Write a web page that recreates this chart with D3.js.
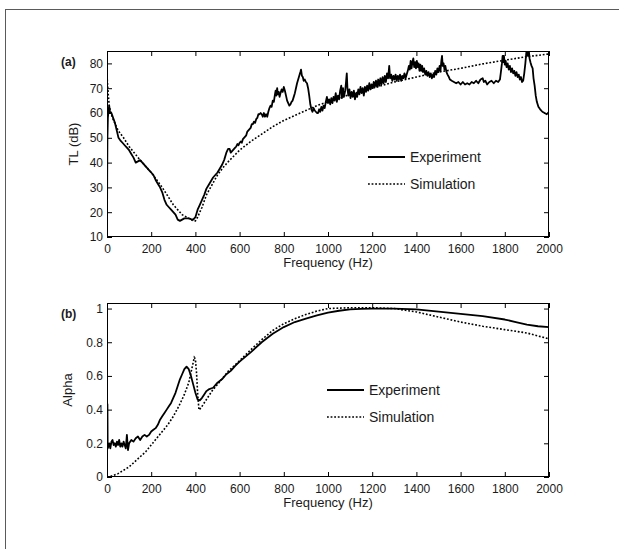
<!DOCTYPE html>
<meta charset="utf-8">
<head>
  <title>TL and Alpha</title>
</head>
<style>
  body { margin: 0; background: #fff; }
  text { font-family: "Liberation Sans", Arial, sans-serif; fill: #1a1a1a; }
  .tick line { stroke: #000; }
  .domain { display: none; }
</style>

<script src="https://d3js.org/d3.v7.min.js"></script>

<div id="my_dataviz"></div>

<script>
  // ---- data ----
  // panel (a): transmission loss, experiment
  var expAFreq = [
    0, 1, 2, 4, 7, 10, 14, 20, 28, 36, 44, 52, 60, 70, 80, 90, 100, 110, 120, 130, 140, 150, 160, 170, 180, 190, 200, 210, 220, 230, 240, 250, 260, 270, 280, 290, 300, 310, 320, 330, 340, 350, 360, 370, 380, 390, 400, 410, 420, 430, 440, 450, 460, 470, 480, 490, 500, 510, 520, 530, 540, 548, 555, 560, 570,
    580, 585, 590, 595, 600, 605, 610, 615, 620, 625, 630, 635, 640, 645, 650, 655, 660, 665, 670, 675, 680, 685, 690, 695,
    700, 705, 710, 715, 720, 725, 730, 735, 740, 745, 750, 755, 760, 763, 766, 770, 773, 777, 781, 785, 790, 795, 800, 805, 810, 815, 820, 825, 830, 835, 840, 845, 850, 855, 860, 865, 870, 875, 878, 882, 886, 890, 895, 900, 905, 910, 915, 920, 925, 930, 935, 940, 945, 950,
    955, 960, 965, 970, 975, 980, 985, 990, 995, 1000, 1005, 1010, 1015, 1020, 1025, 1030, 1035, 1040, 1045, 1050, 1055, 1060,
    1063, 1068, 1072, 1078, 1082, 1085, 1088, 1092, 1097, 1102, 1107, 1112, 1117, 1122, 1127, 1132, 1137, 1142, 1147, 1152, 1157, 1162, 1167, 1172, 1177, 1182, 1187, 1192, 1197, 1202, 1207, 1212, 1217, 1222, 1227, 1232, 1237, 1242, 1247, 1252, 1257, 1262, 1267, 1272, 1277,
    1281, 1286, 1291, 1296, 1301, 1306, 1311, 1316, 1321, 1326, 1331, 1336, 1341, 1346, 1351, 1356, 1361, 1366, 1370, 1374, 1378, 1382, 1386,
    1390, 1394, 1398, 1402, 1406, 1410, 1414, 1418, 1422, 1426, 1430, 1435, 1440, 1445, 1450, 1455, 1460, 1465, 1470, 1475, 1480, 1485, 1490, 1495, 1500, 1505, 1509, 1513, 1516, 1519, 1523, 1527, 1531, 1536, 1541, 1547, 1552, 1560,
    1570, 1580, 1590, 1600, 1610, 1620, 1630, 1640, 1650, 1660, 1670, 1680, 1690, 1700, 1705, 1712, 1720, 1730, 1740, 1750, 1760, 1770, 1778,
    1783, 1787, 1790, 1793, 1796, 1800, 1804, 1808, 1813, 1818, 1823, 1828, 1833, 1838, 1843, 1848, 1853, 1858, 1863, 1868, 1873, 1878, 1883, 1888, 1893, 1897, 1900, 1904, 1908, 1912, 1916, 1921, 1926, 1930, 1935, 1940, 1945, 1952, 1960, 1970, 1980, 1990, 2000];
  var expATL = [
    12, 35, 50, 58, 61, 63, 60, 60, 58, 56, 53, 50, 49, 48, 47, 46, 45, 43.5, 42, 40, 40.5, 41, 40, 39, 38, 37, 36, 35, 33, 31.5, 30, 28, 25, 23, 22, 21, 20, 19, 17, 16.5, 17, 17.5, 17.5, 17.5, 17.2, 17, 18, 21, 23, 25, 27, 29.5, 31, 32.5, 34, 35, 36, 37.5, 39, 41, 44, 45.5, 45.5, 44, 45,
    46, 46.5, 47.5, 47, 48, 48.5, 48, 49.5, 50, 50.5, 51, 52.5, 53, 53.5, 54, 55.5, 55.5, 56.5, 56, 57.5, 58, 59.5, 59.5, 60,
    59.5, 58.5, 60, 58.5, 59.5, 58.5, 60.5, 62, 63, 62.5, 65, 64.5, 67.5, 69, 67, 70, 67.5, 68.5, 66.5, 68, 69.5, 68.5, 70.5, 69, 67, 65, 64, 63, 63.5, 64.5, 65, 66.5, 68, 70, 72, 73.5, 75, 76.5, 77.5, 75, 74.5, 73, 73.5, 72.5, 72, 70, 67, 63.5, 61.5, 60.5, 62, 61, 60.5, 60,
    60, 61.5, 60.5, 62.5, 61, 63, 62, 64.5, 66.5, 64, 65.5, 63.5, 66, 64, 66.5, 65, 68, 64.5, 67, 65.5, 69, 71,
    66, 70, 66.5, 69, 73, 76, 70, 67, 69.5, 66, 68.5, 66.5, 69, 65.5, 68, 66.5, 69.5, 67.5, 70.5, 68, 70, 67, 70.5, 68.5, 71, 69, 72, 69.5, 71.5, 70, 72.5, 70.5, 73, 70.5, 73.5, 71, 74, 71.5, 74.5, 72, 75, 72.5, 76, 74, 79,
    74, 75.5, 73, 75, 73.5, 75.5, 73, 75, 73.5, 75.5, 73, 75, 74, 76, 74, 75.5, 77, 79, 77.5, 81, 78, 80.5, 82,
    78.5, 80.5, 78, 81, 78.5, 80, 77, 79.5, 77, 79, 76.5, 78, 75.5, 77, 75, 76.5, 74.5, 76, 74, 75.5, 74.5, 77, 75.5, 78, 76.5, 79, 77, 81, 83, 79, 80, 77.5, 79, 76.5, 75.5, 74.5, 73.5, 73,
    72.5, 72, 72.5, 71.5, 72.5, 71.5, 72, 71.5, 72.5, 72, 73, 72, 73.5, 74, 72.5, 73, 71.5, 72.5, 73, 72, 73, 72.5, 73.5,
    77, 80, 83, 80.5, 83, 79.5, 81, 78.5, 80, 77.5, 79, 76.5, 78, 76, 77, 75, 76.5, 74.5, 75.5, 73.5, 74.5, 72.5, 73, 76, 80, 84, 86, 83, 86, 82, 80.5, 79, 78, 74, 71, 67, 64.5, 62.5, 61.5, 60.5, 60, 59.5, 60.5];

  // panel (a): simulation
  var simAFreq = [0, 3, 6, 10, 15, 25, 50, 75, 100, 150, 200, 250, 300, 340, 370, 390, 400, 410, 430, 450, 475, 500, 525, 550, 600, 650, 700, 750, 800, 850, 900, 950, 1000, 1100, 1200, 1300, 1400, 1500, 1600, 1700, 1800, 1900, 2000];
  var simATL = [75, 71, 67, 63, 61, 58, 53, 50, 46.5, 41, 36, 30, 23, 19, 17.5, 16.5, 16.5, 18, 22, 27, 31, 35, 38, 40.5, 45, 48.5, 51.5, 54.5, 57, 59, 61, 63, 64.5, 67.5, 70, 72.5, 74.5, 76.5, 78, 79.8, 81.3, 82.7, 83.8];

  // panel (b): absorption coefficient
  var expBFreq = [0, 2, 3, 6, 10, 15, 20, 25, 30, 35, 40, 45, 50, 55, 60, 65, 70, 75, 80, 85, 90, 95, 100, 110, 120, 130, 140, 150, 160, 170, 180, 190, 200, 210, 220, 230, 240, 250, 260, 270, 280, 290, 300, 310, 320, 330, 340, 350, 360, 370, 380, 390, 400, 410, 420, 430, 440, 450, 460, 480, 500, 520, 540, 560, 580, 600, 650, 700, 750, 800, 850, 900, 950, 1000, 1050, 1100, 1150, 1200, 1300, 1400, 1500, 1600, 1700, 1800, 1850, 1900, 1950, 2000];
  var expBAlpha = [0.44, 0.43, 0.17, 0.18, 0.2, 0.17, 0.21, 0.22, 0.19, 0.2, 0.18, 0.21, 0.19, 0.22, 0.18, 0.2, 0.18, 0.21, 0.19, 0.17, 0.25, 0.16, 0.2, 0.22, 0.21, 0.23, 0.24, 0.22, 0.24, 0.25, 0.24, 0.25, 0.27, 0.28, 0.29, 0.31, 0.34, 0.36, 0.38, 0.4, 0.42, 0.44, 0.47, 0.5, 0.54, 0.58, 0.61, 0.64, 0.655, 0.64, 0.6, 0.55, 0.5, 0.46, 0.455, 0.47, 0.49, 0.51, 0.52, 0.53, 0.56, 0.58, 0.61, 0.63, 0.66, 0.685, 0.74, 0.8, 0.85, 0.89, 0.92, 0.94, 0.96, 0.976, 0.987, 0.995, 0.998, 1.0, 1.0, 0.995, 0.982, 0.968, 0.955, 0.935, 0.92, 0.905, 0.895, 0.89];
  var simBFreq = [0, 20, 50, 75, 100, 125, 150, 175, 200, 225, 250, 275, 300, 325, 350, 370, 385, 395, 400, 405, 410, 416, 425, 450, 475, 500, 525, 550, 600, 650, 700, 750, 800, 850, 900, 950, 1000, 1100, 1200, 1300, 1350, 1400, 1450, 1500, 1600, 1700, 1800, 1900, 2000];
  var simBAlpha = [0, 0.005, 0.02, 0.04, 0.06, 0.09, 0.12, 0.15, 0.19, 0.23, 0.27, 0.31, 0.36, 0.42, 0.49, 0.56, 0.65, 0.71, 0.7, 0.62, 0.5, 0.398, 0.41, 0.46, 0.51, 0.55, 0.59, 0.63, 0.69, 0.755, 0.815, 0.87, 0.91, 0.94, 0.965, 0.985, 1.0, 1.005, 1.005, 1.0, 0.99, 0.98, 0.965, 0.95, 0.92, 0.895, 0.875, 0.855, 0.82];

  var freqTicks = [0, 200, 400, 600, 800, 1000, 1200, 1400, 1600, 1800, 2000];
  var tlTicks = [10, 20, 30, 40, 50, 60, 70, 80];
  var alphaTicks = [0, 0.2, 0.4, 0.6, 0.8, 1];
  var legendNames = ["Experiment", "Simulation"];

  // ---- page ----
  var W = 619, H = 549;
  var svg = d3.select("#my_dataviz")
    .append("svg")
    .attr("width", W)
    .attr("height", H);

  // outer frame of the figure
  svg.append("rect")
    .attr("x", 5.5).attr("y", 9.5)
    .attr("width", 700).attr("height", 700)
    .attr("fill", "none")
    .attr("stroke", "#5a5a5a");

  var left = 107, right = 549;
  var x = d3.scaleLinear().domain([0, 2000]).range([left, right]);

  function zip(a, b) {
    return a.map(function(v, i) { return [v, b[i]]; });
  }

  function panel(opt) {
    var y = d3.scaleLinear().domain(opt.ydomain).range([opt.bottom, opt.top]);
    var g = svg.append("g");

    g.append("clipPath").attr("id", opt.id)
      .append("rect")
      .attr("x", left).attr("y", opt.top)
      .attr("width", right - left).attr("height", opt.bottom - opt.top);

    var line = d3.line()
      .x(function(d) { return x(d[0]); })
      .y(function(d) { return y(d[1]); });

    // simulation (dotted)
    g.append("path")
      .datum(zip(opt.simF, opt.simV))
      .attr("clip-path", "url(#" + opt.id + ")")
      .attr("fill", "none")
      .attr("stroke", "#000")
      .attr("stroke-width", 1.6)
      .attr("stroke-dasharray", "1.8,1.8")
      .attr("d", line);

    // experiment (solid)
    g.append("path")
      .datum(zip(opt.expF, opt.expV))
      .attr("clip-path", "url(#" + opt.id + ")")
      .attr("fill", "none")
      .attr("stroke", "#000")
      .attr("stroke-width", 1.8)
      .attr("stroke-linejoin", "round")
      .attr("d", line);

    // axes with inward ticks
    g.append("g")
      .attr("transform", "translate(0," + opt.bottom + ")")
      .style("font-size", "12px")
      .call(d3.axisBottom(x).tickValues(freqTicks).tickSize(-5).tickPadding(7).tickFormat(d3.format("d")));
    g.append("g")
      .attr("transform", "translate(0," + opt.top + ")")
      .call(d3.axisTop(x).tickValues(freqTicks).tickSize(-5).tickFormat(""));
    g.append("g")
      .attr("transform", "translate(" + left + ",0)")
      .style("font-size", "12px")
      .call(d3.axisLeft(y).tickValues(opt.yticks).tickSize(-5).tickPadding(4).tickFormat(d3.format("")));
    g.append("g")
      .attr("transform", "translate(" + right + ",0)")
      .call(d3.axisRight(y).tickValues(opt.yticks).tickSize(-5).tickFormat(""));
    g.selectAll(".tick text").attr("fill", "#1a1a1a").style("font-family", "'Liberation Sans', Arial, sans-serif");

    // box
    g.append("rect")
      .attr("x", left + 0.5).attr("y", opt.top + 0.5)
      .attr("width", right - left - 1).attr("height", opt.bottom - opt.top - 1)
      .attr("fill", "none")
      .attr("stroke", "#000");

    // labels
    g.append("text")
      .attr("x", 61).attr("y", opt.top + 15)
      .style("font-size", "12px")
      .style("font-weight", "bold")
      .text(opt.tag);

    g.append("text")
      .attr("transform", "rotate(-90)")
      .attr("x", -(opt.top + opt.bottom) / 2)
      .attr("y", opt.ylabX)
      .style("text-anchor", "middle")
      .style("font-size", "13px")
      .text(opt.ylabel);

    g.append("text")
      .attr("x", (left + right) / 2)
      .attr("y", opt.bottom + 30)
      .style("text-anchor", "middle")
      .style("font-size", "13px")
      .text("Frequency (Hz)");

    // legend
    var lg = g.append("g");
    legendNames.forEach(function(name, i) {
      var ly = opt.legY + i * 27;
      lg.append("line")
        .attr("x1", opt.legX).attr("x2", opt.legX + 37)
        .attr("y1", ly).attr("y2", ly)
        .attr("stroke", "#000")
        .attr("stroke-width", i === 0 ? 2 : 1.6)
        .attr("stroke-dasharray", i === 0 ? null : "1.8,1.8");
      lg.append("text")
        .attr("x", opt.legX + 42).attr("y", ly + 5)
        .style("font-size", "14px")
        .text(name);
    });
  }

  panel({
    id: "clipA", top: 51, bottom: 237, ydomain: [10, 85], yticks: tlTicks,
    expF: expAFreq, expV: expATL, simF: simAFreq, simV: simATL,
    tag: "(a)", ylabel: "TL (dB)", ylabX: 78, legX: 368, legY: 157
  });

  panel({
    id: "clipB", top: 303, bottom: 477, ydomain: [0, 1.033], yticks: alphaTicks,
    expF: expBFreq, expV: expBAlpha, simF: simBFreq, simV: simBAlpha,
    tag: "(b)", ylabel: "Alpha", ylabX: 72, legX: 327, legY: 390
  });
</script>
